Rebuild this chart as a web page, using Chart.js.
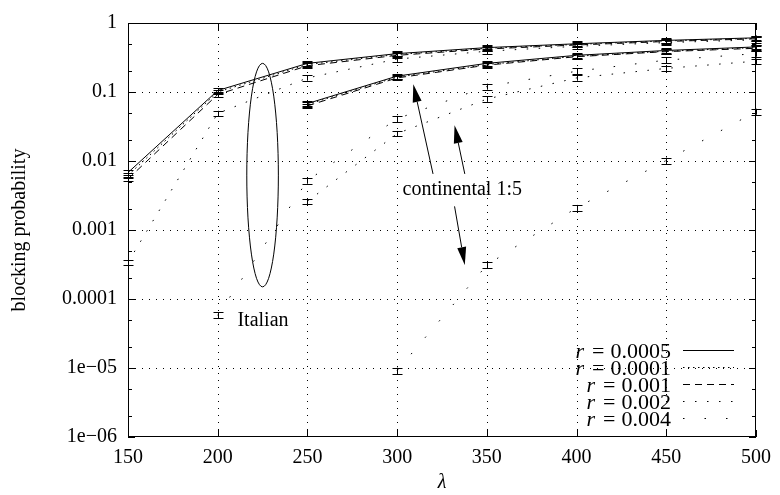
<!DOCTYPE html>
<html>
<head>
<meta charset="utf-8">
<title>Blocking probability</title>
<script src="https://cdn.jsdelivr.net/npm/chart.js@4.4.0/dist/chart.umd.min.js"></script>
<style>
  html, body { margin: 0; padding: 0; background: #fff; }
</style>
</head>
<body>
<canvas id="blockingChart" width="780" height="495"></canvas>
<script>
// Offered load (lambda) on the x axis
const lambdas = [150, 200, 250, 300, 350, 400, 450, 500];

// Italian network, blocking probability per r (null = no point)
const italianR0005 = [0.0068, 0.105, 0.26, 0.36, 0.44, 0.50, 0.56, 0.61];
const italianR0001 = [0.0062, 0.100, 0.25, 0.35, 0.43, 0.49, 0.55, 0.60];
const italianR001  = [0.0055, 0.092, 0.24, 0.34, 0.42, 0.48, 0.54, 0.59];
const italianR002  = [0.00034, 0.049, 0.16, 0.30, 0.39, 0.46, 0.52, 0.57];
const italianR004  = [null, 0.000058, 0.0052, 0.041, 0.12, 0.20, 0.29, 0.36];

// Continental 1:5 network
const contR0005 = [null, null, 0.068, 0.17, 0.26, 0.34, 0.40, 0.45];
const contR0001 = [null, null, 0.066, 0.165, 0.25, 0.33, 0.39, 0.44];
const contR001  = [null, null, 0.063, 0.16, 0.245, 0.325, 0.385, 0.43];
const contR002  = [null, null, 0.0026, 0.025, 0.079, 0.16, 0.22, 0.28];
const contR004  = [null, null, null, 0.0000092, 0.00031, 0.0021, 0.0102, 0.052];

// Relative half-width of the confidence interval, per r
const errFraction = [0.08, 0.08, 0.08, 0.09, 0.1];

// Legend entries and axis ticks
const rValues = ['0.0005', '0.0001', '0.001', '0.002', '0.004'];
const xTicks = [150, 200, 250, 300, 350, 400, 450, 500];
const yTicks = [1e-6, 1e-5, 1e-4, 1e-3, 1e-2, 1e-1, 1];
const yTickLabels = ['1e\u221206', '1e\u221205', '0.0001', '0.001', '0.01', '0.1', '1'];
const yMinorSteps = [2, 5];

// gnuplot-like line types: solid, fine dots, dashes, dots, sparse dots
const dashes = [[], [1.5, 3.5], [7, 5], [1.5, 10.5], [1.5, 20]];

const FONT = "'Liberation Serif', 'Times New Roman', serif";

// Annotations: ellipse around the Italian curves, labels and arrows
const italianEllipse = { x: 225, halfWidth: 8.8, top: 0.26, bottom: 0.00015 };
const textLabels = [
    { text: 'Italian', x: 211, y: 0.000049 },
    { text: 'continental 1:5', x: 303, y: 0.0038 }
];
const arrows = [
    { from: [320, 0.0065], to: [309, 0.13] },
    { from: [337.7, 0.0065], to: [332, 0.033] },
    { from: [332, 0.0022], to: [337.7, 0.00031] }
];

function makeDataset(label, values, rIndex) {
    return {
        label: label,
        data: lambdas.map((x, i) => ({ x: x, y: values[i] })),
        borderColor: '#000',
        borderWidth: 1,
        borderDash: dashes[rIndex],
        pointRadius: 0,
        fill: false,
        tension: 0,
        spanGaps: false,
        errFraction: errFraction[rIndex]
    };
}

const datasets = [
    makeDataset('Italian r=0.0005', italianR0005, 0),
    makeDataset('Italian r=0.0001', italianR0001, 1),
    makeDataset('Italian r=0.001', italianR001, 2),
    makeDataset('Italian r=0.002', italianR002, 3),
    makeDataset('Italian r=0.004', italianR004, 4),
    makeDataset('continental r=0.0005', contR0005, 0),
    makeDataset('continental r=0.0001', contR0001, 1),
    makeDataset('continental r=0.001', contR001, 2),
    makeDataset('continental r=0.002', contR002, 3),
    makeDataset('continental r=0.004', contR004, 4)
];

function line(ctx, x1, y1, x2, y2) {
    ctx.beginPath();
    ctx.moveTo(x1, y1);
    ctx.lineTo(x2, y2);
    ctx.stroke();
}

// Grid, frame and inward ticks, drawn under the curves
function drawFrame(chart) {
    const { ctx, chartArea: a, scales: { x, y } } = chart;
    ctx.save();
    ctx.strokeStyle = '#000';
    ctx.lineWidth = 1;

    ctx.setLineDash([1, 6]);
    xTicks.slice(1, -1).forEach(v => {
        const px = Math.round(x.getPixelForValue(v)) + 0.5;
        line(ctx, px, a.top, px, a.bottom);
    });
    yTicks.slice(1, -1).forEach(v => {
        const py = Math.round(y.getPixelForValue(v)) + 0.5;
        line(ctx, a.left, py, a.right, py);
    });
    ctx.setLineDash([]);

    ctx.strokeRect(Math.round(a.left) + 0.5, Math.round(a.top) + 0.5,
        Math.round(a.width) - 1, Math.round(a.height) - 1);

    xTicks.forEach(v => {
        const px = Math.round(x.getPixelForValue(v)) + 0.5;
        line(ctx, px, a.bottom, px, a.bottom - 7);
        line(ctx, px, a.top, px, a.top + 7);
    });
    yTicks.forEach((v, i) => {
        const py = Math.round(y.getPixelForValue(v)) + 0.5;
        line(ctx, a.left, py, a.left + 7, py);
        line(ctx, a.right, py, a.right - 7, py);
        if (i === yTicks.length - 1) return;
        yMinorSteps.forEach(m => {
            const pm = Math.round(y.getPixelForValue(v * m)) + 0.5;
            line(ctx, a.left, pm, a.left + 4, pm);
            line(ctx, a.right, pm, a.right - 4, pm);
        });
    });
    ctx.restore();
}

// Confidence intervals on every point
function drawErrorBars(chart) {
    const { ctx, scales: { x, y } } = chart;
    ctx.save();
    ctx.strokeStyle = '#000';
    ctx.lineWidth = 1;
    chart.data.datasets.forEach(ds => {
        ds.data.forEach(p => {
            if (p.y == null) return;
            const px = Math.round(x.getPixelForValue(p.x)) + 0.5;
            const lo = y.getPixelForValue(p.y * (1 - ds.errFraction));
            const hi = y.getPixelForValue(p.y * (1 + ds.errFraction));
            line(ctx, px, lo, px, hi);
            line(ctx, px - 5, Math.round(lo) + 0.5, px + 5, Math.round(lo) + 0.5);
            line(ctx, px - 5, Math.round(hi) + 0.5, px + 5, Math.round(hi) + 0.5);
        });
    });
    ctx.restore();
}

function drawAnnotations(chart) {
    const { ctx, scales: { x, y } } = chart;
    ctx.save();
    ctx.strokeStyle = '#000';
    ctx.fillStyle = '#000';
    ctx.lineWidth = 1;

    // ellipse
    const cx = x.getPixelForValue(italianEllipse.x);
    const rx = x.getPixelForValue(italianEllipse.x + italianEllipse.halfWidth) - cx;
    const yt = y.getPixelForValue(italianEllipse.top);
    const yb = y.getPixelForValue(italianEllipse.bottom);
    ctx.beginPath();
    ctx.ellipse(cx, (yt + yb) / 2, rx, (yb - yt) / 2, 0, 0, Math.PI * 2);
    ctx.stroke();

    // text labels
    ctx.font = '20px ' + FONT;
    ctx.textAlign = 'left';
    ctx.textBaseline = 'middle';
    textLabels.forEach(t => {
        ctx.fillText(t.text, x.getPixelForValue(t.x), y.getPixelForValue(t.y));
    });

    // arrows with filled heads
    arrows.forEach(a => {
        const x1 = x.getPixelForValue(a.from[0]), y1 = y.getPixelForValue(a.from[1]);
        const x2 = x.getPixelForValue(a.to[0]), y2 = y.getPixelForValue(a.to[1]);
        const ang = Math.atan2(y2 - y1, x2 - x1);
        const len = 18, half = 4.5;
        const bx = x2 - len * Math.cos(ang), by = y2 - len * Math.sin(ang);
        line(ctx, x1, y1, bx, by);
        ctx.beginPath();
        ctx.moveTo(x2, y2);
        ctx.lineTo(bx + half * Math.sin(ang), by - half * Math.cos(ang));
        ctx.lineTo(bx - half * Math.sin(ang), by + half * Math.cos(ang));
        ctx.closePath();
        ctx.fill();
    });
    ctx.restore();
}

// gnuplot style key: right aligned text, line sample on its right
function drawKey(chart) {
    const { ctx, chartArea: a } = chart;
    ctx.save();
    ctx.fillStyle = '#000';
    ctx.strokeStyle = '#000';
    ctx.lineWidth = 1;
    ctx.textBaseline = 'middle';
    const textRight = a.right - 85;
    rValues.forEach((r, i) => {
        const rowY = a.bottom - 85 + i * 17;
        ctx.font = '22px ' + FONT;
        ctx.textAlign = 'right';
        ctx.fillText(r, textRight, rowY);
        const numW = ctx.measureText(r).width;
        const eqRight = textRight - numW - 6;
        ctx.fillText('=', eqRight, rowY);
        const eqW = ctx.measureText('=').width;
        ctx.font = 'italic 22px ' + FONT;
        ctx.fillText('r', eqRight - eqW - 8, rowY);

        ctx.setLineDash(dashes[i]);
        const ly = Math.round(rowY - 2) + 0.5;
        line(ctx, a.right - 73, ly, a.right - 22, ly);
        ctx.setLineDash([]);
    });
    ctx.restore();
}

const gnuplotLook = {
    id: 'gnuplotLook',
    beforeDatasetsDraw: drawFrame,
    afterDatasetsDraw(chart) {
        drawErrorBars(chart);
        drawAnnotations(chart);
        drawKey(chart);
    }
};

const tickFont = { family: FONT, size: 20 };

new Chart(document.getElementById('blockingChart').getContext('2d'), {
    type: 'line',
    data: { datasets: datasets },
    options: {
        responsive: false,
        animation: false,
        layout: { padding: { top: 12, right: 20, left: 0, bottom: 0 } },
        plugins: {
            legend: { display: false },
            tooltip: { enabled: false }
        },
        scales: {
            x: {
                type: 'linear',
                min: 150,
                max: 500,
                afterBuildTicks: s => { s.ticks = xTicks.map(v => ({ value: v })); },
                afterFit: s => { s.height = 58; },
                grid: { display: false, drawTicks: false },
                border: { display: false },
                ticks: {
                    font: tickFont,
                    color: '#000',
                    padding: 9,
                    maxRotation: 0,
                    autoSkip: false,
                    callback: (v, i) => String(xTicks[i])
                },
                title: {
                    display: true,
                    text: '\u03bb',
                    color: '#000',
                    font: { family: FONT, size: 20, style: 'italic' },
                    padding: { top: 0, bottom: 0 }
                }
            },
            y: {
                type: 'logarithmic',
                min: 1e-6,
                max: 1,
                afterBuildTicks: s => { s.ticks = yTicks.map(v => ({ value: v })); },
                afterFit: s => { s.width = 128; },
                grid: { display: false, drawTicks: false },
                border: { display: false },
                ticks: {
                    font: tickFont,
                    color: '#000',
                    padding: 11,
                    autoSkip: false,
                    callback: (v, i) => yTickLabels[i]
                },
                title: {
                    display: true,
                    text: 'blocking probability',
                    color: '#000',
                    font: { family: FONT, size: 20 },
                    padding: { top: 8, bottom: 0 }
                }
            }
        }
    },
    plugins: [gnuplotLook]
});
</script>
</body>
</html>
